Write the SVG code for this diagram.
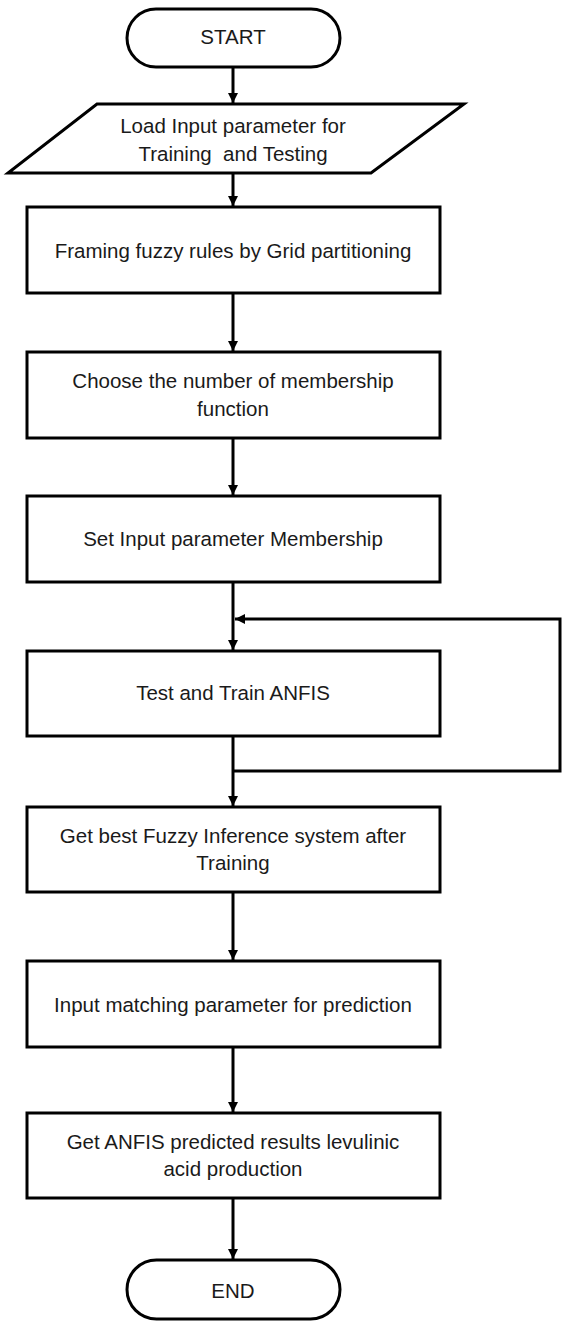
<svg xmlns="http://www.w3.org/2000/svg" width="562" height="1324" viewBox="0 0 562 1324">
<style>
.shape{fill:#fff;stroke:#000;stroke-width:3}
.lbl{font-family:"Liberation Sans",Arial,sans-serif;font-size:20.5px;fill:#1a1a1a;text-anchor:middle}
.conn{fill:none;stroke:#000;stroke-width:3}
</style>
<defs>
<marker id="ah" viewBox="0 0 10 10" refX="10" refY="5" markerWidth="10" markerHeight="10" markerUnits="userSpaceOnUse" orient="auto">
<path d="M0,0 L10,5 L0,10 Z" fill="#000"/>
</marker>
</defs>
<g id="connectors">
<line class="conn" x1="233" y1="67" x2="233" y2="103" marker-end="url(#ah)"/>
<line class="conn" x1="233" y1="173" x2="233" y2="206" marker-end="url(#ah)"/>
<line class="conn" x1="233" y1="293" x2="233" y2="351" marker-end="url(#ah)"/>
<line class="conn" x1="233" y1="438" x2="233" y2="495" marker-end="url(#ah)"/>
<line class="conn" x1="233" y1="582" x2="233" y2="650" marker-end="url(#ah)"/>
<polyline class="conn" points="233,771 560,771 560,619 235,619" marker-end="url(#ah)"/>
<line class="conn" x1="233" y1="736" x2="233" y2="806" marker-end="url(#ah)"/>
<line class="conn" x1="233" y1="892" x2="233" y2="960" marker-end="url(#ah)"/>
<line class="conn" x1="233" y1="1047" x2="233" y2="1112" marker-end="url(#ah)"/>
<line class="conn" x1="233" y1="1198" x2="233" y2="1259" marker-end="url(#ah)"/>
</g>
<g id="start">
<rect class="shape" x="127" y="9" width="213" height="58" rx="29" ry="29"/>
<text class="lbl" x="233" y="44">START</text>
</g>
<g id="load-input">
<polygon class="shape" points="97,104 464,104 371,173 8,173"/>
<text class="lbl" x="233" y="133">Load Input parameter for</text>
<text class="lbl" x="233" y="161" xml:space="preserve">Training  and Testing</text>
</g>
<g id="framing">
<rect class="shape" x="27" y="207" width="413" height="86"/>
<text class="lbl" x="233" y="258">Framing fuzzy rules by Grid partitioning</text>
</g>
<g id="choose">
<rect class="shape" x="27" y="352" width="413" height="86"/>
<text class="lbl" x="233" y="388">Choose the number of membership</text>
<text class="lbl" x="233" y="416">function</text>
</g>
<g id="set-input">
<rect class="shape" x="27" y="496" width="413" height="86"/>
<text class="lbl" x="233" y="546">Set Input parameter Membership</text>
</g>
<g id="test-train">
<rect class="shape" x="27" y="651" width="413" height="85"/>
<text class="lbl" x="233" y="700">Test and Train ANFIS</text>
</g>
<g id="get-best">
<rect class="shape" x="27" y="807" width="413" height="85"/>
<text class="lbl" x="233" y="843">Get best Fuzzy Inference system after</text>
<text class="lbl" x="233" y="870">Training</text>
</g>
<g id="input-matching">
<rect class="shape" x="27" y="961" width="413" height="86"/>
<text class="lbl" x="233" y="1012">Input matching parameter for prediction</text>
</g>
<g id="get-anfis">
<rect class="shape" x="27" y="1113" width="413" height="85"/>
<text class="lbl" x="233" y="1149">Get ANFIS predicted results levulinic</text>
<text class="lbl" x="233" y="1176">acid production</text>
</g>
<g id="end">
<rect class="shape" x="127" y="1260" width="213" height="59" rx="29.5" ry="29.5"/>
<text class="lbl" x="233" y="1298">END</text>
</g>
</svg>
